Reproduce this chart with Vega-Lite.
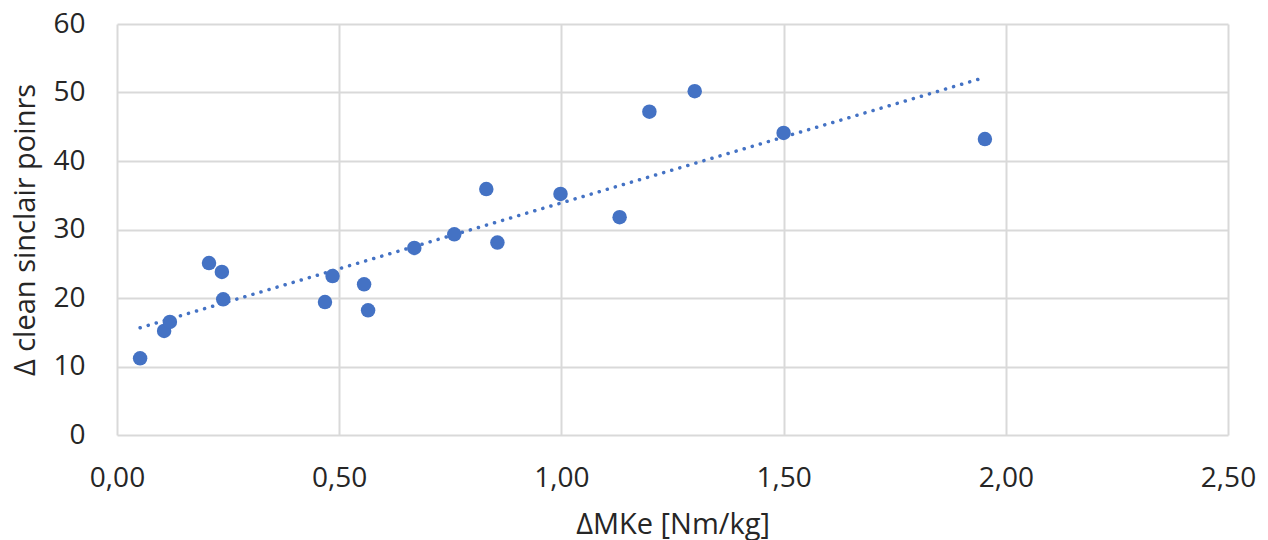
{
  "$schema": "https://vega.github.io/schema/vega-lite/v6.json",
  "width": 1111,
  "height": 411,
  "autosize": {"type": "none"},
  "padding": {"left": 117, "top": 24, "right": 40, "bottom": 105},
  "background": "white",
  "config": {
    "view": {"stroke": null},
    "font": "Open Sans",
    "axis": {
      "gridColor": "#d9d9d9",
      "gridWidth": 2,
      "domain": false,
      "ticks": false,
      "labelFlush": false,
      "labelOverlap": false,
      "labelFont": "Open Sans",
      "labelFontSize": 28,
      "labelColor": "#262626",
      "titleFont": "Open Sans",
      "titleFontSize": 29,
      "titleFontWeight": "normal",
      "titleColor": "#262626"
    }
  },
  "data": {
    "values": [
      {"x": 0.052, "y": 11.2},
      {"x": 0.106, "y": 15.2},
      {"x": 0.119, "y": 16.5},
      {"x": 0.207, "y": 25.1},
      {"x": 0.236, "y": 23.8},
      {"x": 0.239, "y": 19.8},
      {"x": 0.468, "y": 19.4},
      {"x": 0.485, "y": 23.2},
      {"x": 0.556, "y": 22.0},
      {"x": 0.565, "y": 18.2},
      {"x": 0.669, "y": 27.3},
      {"x": 0.759, "y": 29.3},
      {"x": 0.831, "y": 35.9},
      {"x": 0.856, "y": 28.1},
      {"x": 0.998, "y": 35.2},
      {"x": 1.131, "y": 31.8},
      {"x": 1.198, "y": 47.2},
      {"x": 1.300, "y": 50.2},
      {"x": 1.500, "y": 44.1},
      {"x": 1.953, "y": 43.2}
    ]
  },
  "layer": [
    {
      "transform": [{"regression": "y", "on": "x"}],
      "mark": {"type": "line", "color": "#4472C4", "strokeWidth": 3.5, "strokeDash": [0.1, 8.3], "strokeCap": "round"},
      "encoding": {
        "x": {"field": "x", "type": "quantitative"},
        "y": {"field": "y", "type": "quantitative"}
      }
    },
    {
      "mark": {"type": "circle", "color": "#4472C4", "opacity": 1, "size": 210},
      "encoding": {
        "x": {
          "field": "x", "type": "quantitative",
          "scale": {"domain": [0, 2.5], "nice": false, "zero": true},
          "axis": {
            "values": [0, 0.5, 1, 1.5, 2, 2.5],
            "labelExpr": "replace(format(datum.value, '.2f'), '.', ',')",
            "labelPadding": 29,
            "title": "ΔMKe [Nm/kg]",
            "titlePadding": 18
          }
        },
        "y": {
          "field": "y", "type": "quantitative",
          "scale": {"domain": [0, 60], "nice": false},
          "axis": {
            "values": [0, 10, 20, 30, 40, 50, 60],
            "labelPadding": 32,
            "title": "Δ clean sinclair poinrs",
            "titlePadding": 12
          }
        }
      }
    }
  ]
}
